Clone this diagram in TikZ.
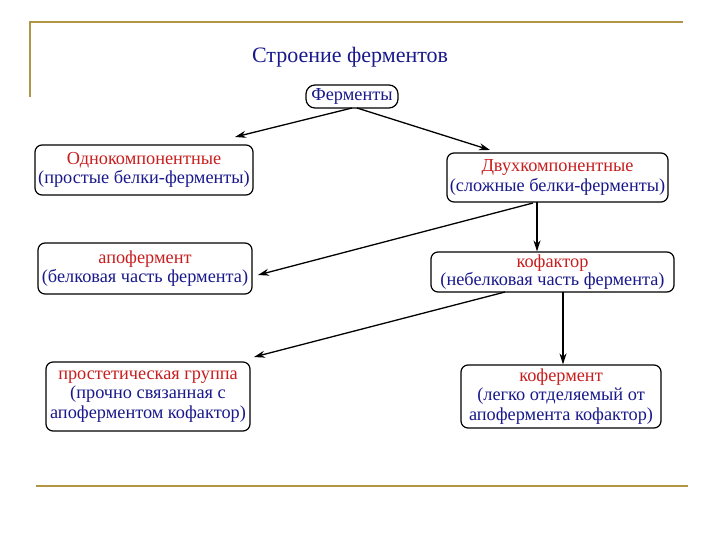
\documentclass[tikz,border=0pt]{standalone}
\usepackage{fontspec}
\setmainfont{Liberation Serif}
\usetikzlibrary{arrows.meta}
\definecolor{gold}{RGB}{176,150,70}
\definecolor{rd}{RGB}{200,30,30}
\definecolor{bl}{RGB}{25,25,140}
\tikzset{
  box/.style={draw=black, line width=1.2pt, rounded corners=7pt, fill=white, inner sep=0pt, align=center, font=\fontsize{18.3}{19.5}\selectfont, text=bl},
  arr/.style={line width=1.3pt, -{Stealth[length=11pt,width=7pt]}},
}
\begin{document}
\begin{tikzpicture}[x=1pt,y=-1pt]
\useasboundingbox (0,0) rectangle (720,540);
\draw[gold, line width=2pt] (30,97) -- (30,22) -- (683,22);
\draw[gold, line width=2pt] (36,486) -- (688,486);
\node[text=bl, font=\fontsize{22}{24}\selectfont] (title) at (350,57) {Строение ферментов};
\node[box, minimum width=92pt, minimum height=23pt, rounded corners=9pt] (ferm) at (352,96.5) {Ферменты};
\node[box, minimum width=218pt, minimum height=50pt] (odno) at (144,170) {\textcolor{rd}{Однокомпонентные}\\(простые белки-ферменты)};
\node[box, minimum width=221pt, minimum height=49pt] (dvuh) at (557.5,177.5) {\textcolor{rd}{Двухкомпонентные}\\(сложные белки-ферменты)};
\node[box, minimum width=214pt, minimum height=51pt] (apo) at (145,268.5) {\textcolor{rd}{апофермент}\\(белковая часть фермента)};
\node[box, minimum width=243pt, minimum height=40pt, font=\fontsize{18.3}{18}\selectfont] (kof) at (552.5,272) {\textcolor{rd}{кофактор}\\(небелковая часть фермента)};
\node[box, minimum width=204pt, minimum height=69pt] (prost) at (148,396.5) {\textcolor{rd}{простетическая группа}\\(прочно связанная с\\апоферментом кофактор)};
\node[box, minimum width=200pt, minimum height=63pt] (kofer) at (561,396.5) {\textcolor{rd}{кофермент}\\(легко отделяемый от\\ апофермента кофактор)};
\coordinate (f1) at (352,108);
\coordinate (f2) at (357,108);
\draw[arr] (f1) -- (235,137);
\draw[arr] (f2) -- (490,150);
\draw[arr] (537,202) -- (kof.north -| 537,0);
\draw[arr] (533,203) -- (258,275);
\draw[arr] (563,292) -- (kofer.north -| 563,0);
\draw[arr] (505,292) -- (254,357);
\end{tikzpicture}
\end{document}
